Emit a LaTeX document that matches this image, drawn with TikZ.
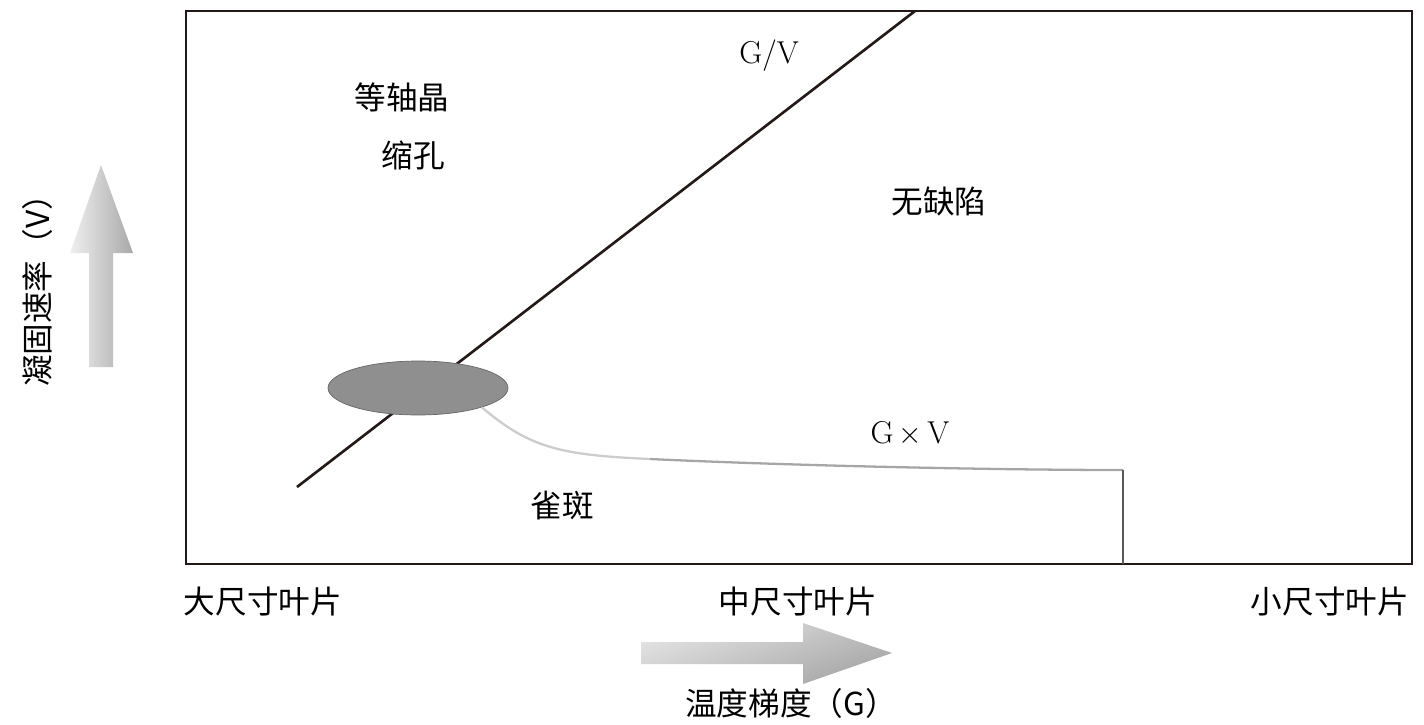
\documentclass[tikz,border=0pt]{standalone}
\usepackage{fontspec}
\newfontfamily\cjk{Noto Sans CJK SC}
\usepackage{tikz}
\usetikzlibrary{shapes.geometric}
\definecolor{spotgray}{RGB}{143,143,143}
\definecolor{lineink}{RGB}{35,25,22}

\begin{document}
\begin{tikzpicture}[
x=0.02cm, y=-0.02cm,
lbl/.style={font=\cjk\fontsize{18}{21}\selectfont, inner sep=0pt},
latin/.style={font=\fontsize{18}{21}\selectfont, inner sep=0pt},
frame/.style={draw=lineink, line width=1.4pt},
ratio/.style={draw=lineink, line width=1.5pt},
spot/.style={ellipse, fill=spotgray, draw=gray!80!black, line width=0.4pt, minimum width=3.6cm, minimum height=1.08cm, inner sep=0pt},
curve/.style={line width=1.3pt}
]
\useasboundingbox (0,0) rectangle (1424,724);
% plot frame
\draw[frame] (186,11) rectangle (1412,564);
% G/V line and the freckle spot
\coordinate (gvlow) at (297,487);
\coordinate (gvtop) at (915,11);
\draw[ratio] (gvlow) -- (gvtop);
\node[spot] (freckle) at (418,388) {};
% G x V boundary
\coordinate (bend) at (650,459);
\coordinate (corner) at (1123,470);
\coordinate (foot) at (1123,564);
\draw[curve, draw=gray!40] (freckle.south east) .. controls (530,448) and (560,455) .. (bend);
\draw[curve, draw=gray!70] (bend) .. controls (800,466) and (1000,470) .. (corner);
\draw[curve, draw=gray!70!black] (corner) -- (foot);
% region labels
\node[lbl] (equiax) at (402,97) {等轴晶};
\node[lbl] (shrink) at (413,155) {缩孔};
\node[latin] (gv) at (769,56) {G/V};
\node[lbl] (sound) at (939,201) {无缺陷};
\node[latin] (gxv) at (910,434) {G$\,\times\,$V};
\node[lbl] (freck) at (562,506) {雀斑};
% axis labels
\node[lbl] (large) at (263,602) {大尺寸叶片};
\node[lbl] (medium) at (798,602) {中尺寸叶片};
\node[lbl] (small) at (1330,602) {小尺寸叶片};
\node[lbl] (gradient) at (791,703) {温度梯度（G）};
\node[lbl, rotate=90] (rate) at (37,283) {凝固速率（V）};
% shaded arrows
\shade[left color=gray!12, right color=gray!68]
  (89,367) -- (89,253) -- (70,253) -- (101,165) -- (133,253) -- (113,253) -- (113,367) -- cycle;
\shade[top color=gray!22, bottom color=gray!70, shading angle=20]
  (641,642) -- (803,642) -- (803,623) -- (892,653) -- (803,684) -- (803,664) -- (641,664) -- cycle;
\end{tikzpicture}
\end{document}
